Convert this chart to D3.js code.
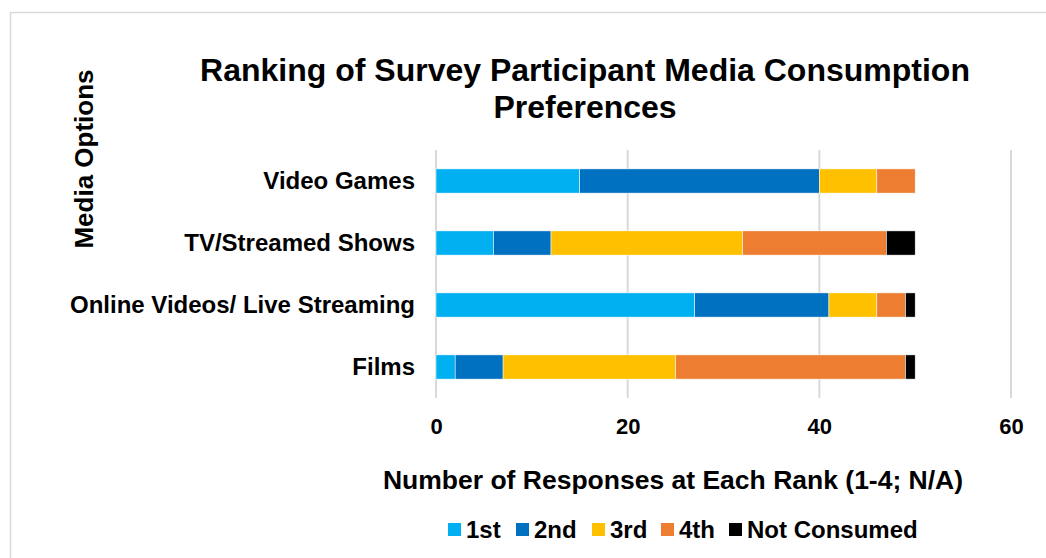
<!DOCTYPE html>
<html>
<head>
<meta charset="utf-8">
<script src="https://cdn.jsdelivr.net/npm/d3@7"></script>
<style>
  body { margin: 0; background: #fff; }
  svg text { font-family: "Liberation Sans", Arial, sans-serif; font-weight: bold; fill: #000; }
</style>
</head>
<body>
<div id="chart"></div>
<script>
// data
var categories = ["Video Games", "TV/Streamed Shows", "Online Videos/ Live Streaming", "Films"];
var seriesNames = ["1st", "2nd", "3rd", "4th", "Not Consumed"];
var colors = ["#00b0f0", "#0070c0", "#ffc000", "#ed7d31", "#000000"];
var first  = [15, 6, 27, 2];
var second = [25, 6, 14, 5];
var third  = [6, 20, 5, 18];
var fourth = [4, 15, 3, 24];
var notConsumed = [0, 3, 1, 1];
var xTicks = [0, 20, 40, 60];

var W = 1046, H = 558;
var margin = {top: 150, right: 35, bottom: 160, left: 436},
    width = 1011 - margin.left,
    height = 398 - margin.top;

var svg = d3.select("#chart").append("svg")
  .attr("width", W)
  .attr("height", H);

// chart border
svg.append("rect")
  .attr("x", 10.5).attr("y", 12.5)
  .attr("width", 1050).attr("height", 560)
  .attr("fill", "none")
  .attr("stroke", "#d9d9d9")
  .attr("stroke-width", 1.5);

// build table for the stack
var table = categories.map(function(c, i) {
  return {cat: c, "1st": first[i], "2nd": second[i], "3rd": third[i], "4th": fourth[i], "Not Consumed": notConsumed[i]};
});
var stacked = d3.stack().keys(seriesNames)(table);

var x = d3.scaleLinear().domain([0, 60]).range([0, width]);
var y = d3.scaleBand().domain(categories).range([0, height]).paddingInner(0.61).paddingOuter(0.305);

var g = svg.append("g")
  .attr("transform", "translate(" + margin.left + "," + margin.top + ")");

// gridlines
g.selectAll(".grid")
  .data(xTicks)
  .enter().append("line")
    .attr("x1", function(d) { return x(d); })
    .attr("x2", function(d) { return x(d); })
    .attr("y1", 0)
    .attr("y2", height)
    .attr("stroke", "#d9d9d9")
    .attr("stroke-width", 2);

// bars
g.selectAll(".series")
  .data(stacked)
  .enter().append("g")
    .attr("fill", function(d, i) { return colors[i]; })
  .selectAll("rect")
  .data(function(d) { return d; })
  .enter().append("rect")
    .attr("x", function(d) { return x(d[0]); })
    .attr("y", function(d) { return y(d.data.cat); })
    .attr("width", function(d) { return x(d[1]) - x(d[0]); })
    .attr("height", y.bandwidth())
    .attr("stroke", "#fff")
    .attr("stroke-width", 0.5);

// x axis
var xAxis = g.append("g")
  .attr("transform", "translate(0," + height + ")")
  .call(d3.axisBottom(x).tickValues(xTicks).tickSize(0).tickPadding(20));
xAxis.select(".domain").remove();
xAxis.selectAll("text").style("font-size", "22px").style("font-family", "Liberation Sans, Arial, sans-serif");

// y axis
var yAxis = g.append("g")
  .call(d3.axisLeft(y).tickSize(0).tickPadding(21));
yAxis.select(".domain").remove();
yAxis.selectAll("text").style("font-size", "24px").style("font-family", "Liberation Sans, Arial, sans-serif");

// title
svg.append("text")
  .attr("x", 585).attr("y", 81)
  .attr("text-anchor", "middle")
  .style("font-size", "32px")
  .text("Ranking of Survey Participant Media Consumption");
svg.append("text")
  .attr("x", 585).attr("y", 118)
  .attr("text-anchor", "middle")
  .style("font-size", "32px")
  .text("Preferences");

// y axis title
svg.append("text")
  .attr("transform", "translate(93,159) rotate(-90)")
  .attr("text-anchor", "middle")
  .style("font-size", "26px")
  .text("Media Options");

// x axis title
svg.append("text")
  .attr("x", 673).attr("y", 489)
  .attr("text-anchor", "middle")
  .style("font-size", "26.5px")
  .text("Number of Responses at Each Rank (1-4; N/A)");

// legend
var legendX = [448, 516, 592, 661, 729];
var legend = svg.selectAll(".legend")
  .data(seriesNames)
  .enter().append("g")
    .attr("transform", function(d, i) { return "translate(" + legendX[i] + ",523)"; });
legend.append("rect")
  .attr("width", 13).attr("height", 13)
  .attr("fill", function(d, i) { return colors[i]; });
legend.append("text")
  .attr("x", 18).attr("y", 15)
  .style("font-size", "24px")
  .text(function(d) { return d; });
</script>
</body>
</html>
